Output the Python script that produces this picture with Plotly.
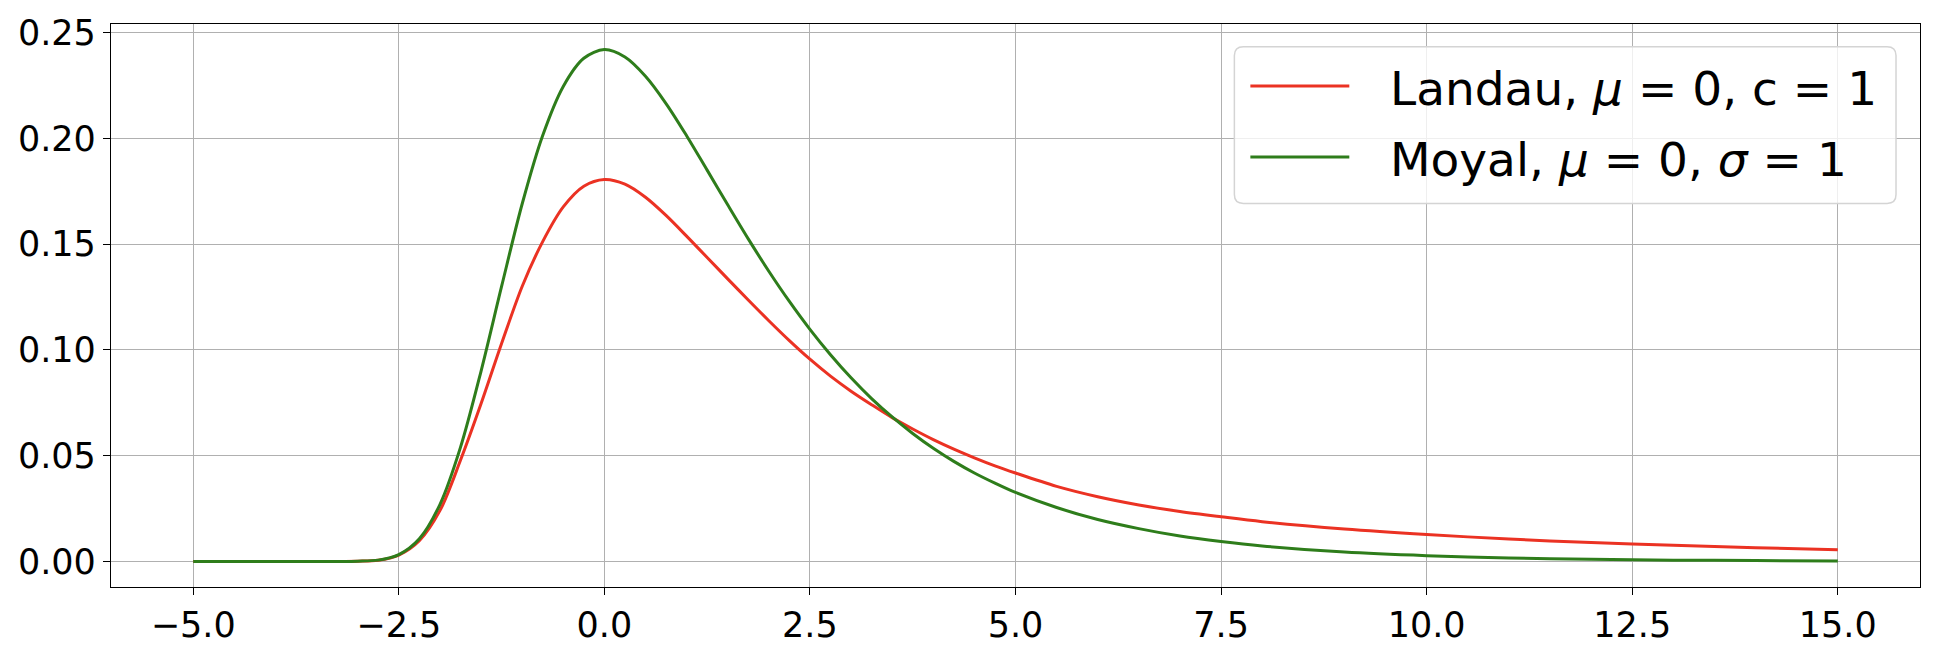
import plotly.graph_objects as go

x_vals = [-5.0, -4.5, -4.0, -3.5, -3.25, -3.0, -2.75, -2.5, -2.25, -2.0, -1.75, -1.5,
          -1.25, -1.0, -0.75, -0.5, -0.25, 0.0, 0.25, 0.5, 0.75, 1.0, 1.25, 1.5,
          1.75, 2.0, 2.25, 2.5, 2.75, 3.0, 3.25, 3.5, 3.75, 4.0, 4.25, 4.5, 4.75,
          5.0, 5.5, 6.0, 6.5, 7.0, 7.5, 8.0, 9.0, 10.0, 11.0, 12.0, 13.0, 14.0, 15.0]

landau_vals = [0.0, 0.0, 0.0, 0.0, 0.0, 0.0001, 0.0005, 0.0030, 0.0098, 0.0240, 0.0478,
               0.0745, 0.1030, 0.1300, 0.1512, 0.1676, 0.1774, 0.1806, 0.1784, 0.1722,
               0.1636, 0.1538, 0.1437, 0.1336, 0.1236, 0.1138, 0.1044, 0.0956, 0.0876,
               0.0805, 0.0741, 0.0680, 0.0626, 0.0576, 0.0531, 0.0490, 0.0452, 0.0418,
               0.0355, 0.0306, 0.0267, 0.0236, 0.0211, 0.0188, 0.0153, 0.0127, 0.0106,
               0.0089, 0.0076, 0.0065, 0.0055]

moyal_vals = [0.0, 0.0, 0.0, 0.0, 0.0, 0.0001, 0.0006, 0.0032, 0.0107, 0.0269, 0.0539,
              0.0899, 0.1300, 0.1690, 0.2014, 0.2246, 0.2379, 0.2420, 0.2385, 0.2294,
              0.2165, 0.2013, 0.1850, 0.1686, 0.1525, 0.1372, 0.1229, 0.1097, 0.0977,
              0.0868, 0.0770, 0.0683, 0.0605, 0.0535, 0.0473, 0.0418, 0.0370, 0.0326,
              0.0255, 0.0198, 0.0155, 0.0120, 0.0094, 0.0073, 0.0044, 0.0027, 0.0016,
              0.0010, 0.0006, 0.0004, 0.0002]

series_names = ["Landau, <i>μ</i> = 0, c = 1", "Moyal, <i>μ</i> = 0, <i>σ</i> = 1"]
series_colors = ["#eb3223", "#2e7d1b"]

x_ticks = [-5.0, -2.5, 0.0, 2.5, 5.0, 7.5, 10.0, 12.5, 15.0]
y_ticks = [0.00, 0.05, 0.10, 0.15, 0.20, 0.25]

FONT = "DejaVu Sans"

fig = go.Figure()
for name, vals, col in zip(series_names, [landau_vals, moyal_vals], series_colors):
    fig.add_trace(go.Scatter(
        x=x_vals, y=vals, mode="lines", name=name, showlegend=False,
        line=dict(color=col, width=3, shape="spline", smoothing=0.9),
    ))

axis_common = dict(
    showline=True, linecolor="black", linewidth=1.3, mirror=True,
    ticks="outside", ticklen=7, tickwidth=1.3, tickcolor="black",
    showgrid=True, gridcolor="#b0b0b0", gridwidth=1.3,
    zeroline=False, tickfont=dict(family=FONT, size=35, color="black"),
)

fig.update_xaxes(range=[-6, 16], tickvals=x_ticks, tickformat=".1f", **axis_common)
fig.update_yaxes(range=[-0.0121, 0.2541], tickvals=y_ticks, tickformat=".2f", **axis_common)

# ---- legend box (matplotlib style: rounded, semi-transparent) ----
W, H = 1933, 657
ML, MR, MT, MB = 111, 12, 24, 62
pw, ph = W - ML - MR, H - MT - MB


def px(xp):
    return (xp - ML) / pw


def py(yp):
    return (H - MB - yp) / ph


bx0, bx1, by0, by1 = 1235, 1897, 47, 206
r = 9
rx, ry = r / pw, r / ph
X0, X1, Y0, Y1 = px(bx0), px(bx1), py(by1), py(by0)
path = (f"M {X0+rx},{Y0} L {X1-rx},{Y0} Q {X1},{Y0} {X1},{Y0+ry} "
        f"L {X1},{Y1-ry} Q {X1},{Y1} {X1-rx},{Y1} L {X0+rx},{Y1} "
        f"Q {X0},{Y1} {X0},{Y1-ry} L {X0},{Y0+ry} Q {X0},{Y0} {X0+rx},{Y0} Z")
shapes = [dict(type="path", xref="paper", yref="paper", path=path,
               fillcolor="rgba(255,255,255,0.8)", line=dict(color="#d4d4d4", width=1.5),
               layer="above")]
annotations = []
row_y = [87, 159]
for name, col, yy in zip(series_names, series_colors, row_y):
    shapes.append(dict(type="line", xref="paper", yref="paper",
                       x0=px(1251), x1=px(1350), y0=py(yy), y1=py(yy),
                       line=dict(color=col, width=3), layer="above"))
    annotations.append(dict(xref="paper", yref="paper", x=px(1389), y=py(yy + 2),
                            xanchor="left", yanchor="middle", showarrow=False,
                            text=name, font=dict(family=FONT, size=47, color="black")))

fig.update_layout(
    width=W, height=H, autosize=False,
    margin=dict(l=ML, r=MR, t=MT, b=MB),
    plot_bgcolor="white", paper_bgcolor="white",
    font=dict(family=FONT, color="black"),
    shapes=shapes, annotations=annotations,
    showlegend=False,
)

fig.write_html("out.html")
